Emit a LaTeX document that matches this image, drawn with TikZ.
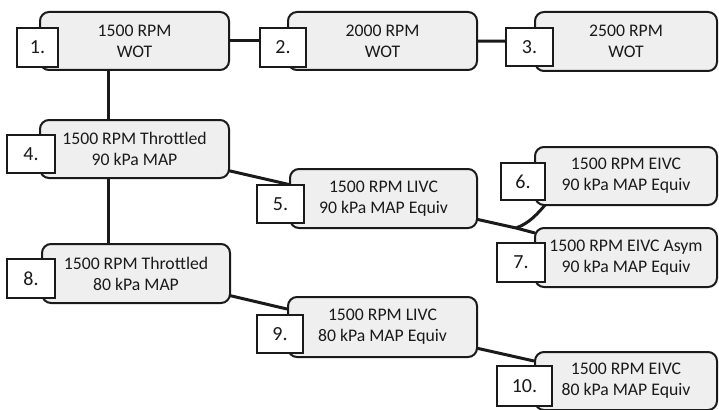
\documentclass[tikz,border=0pt]{standalone}
\usepackage{fontspec}
\setmainfont{Carlito}
\usetikzlibrary{backgrounds,calc}
\definecolor{boxfill}{HTML}{EFEFEF}
\definecolor{ink}{HTML}{1A1A1A}
\begin{document}
\begin{tikzpicture}[x=1pt,y=-1pt,
  mainbox/.style={draw=ink, fill=boxfill, line width=2pt, rounded corners=9pt,
    inner sep=0pt, align=center, text=ink, font=\fontsize{17.7}{21}\selectfont},
  numbox/.style={draw=ink, fill=white, line width=2pt, inner sep=0pt,
    text=ink, font=\fontsize{20}{24}\selectfont},
  link/.style={draw=ink, line width=3pt}
]
\useasboundingbox (0,0) rectangle (719,409);
% main boxes
\node[mainbox, minimum width=189pt, minimum height=58pt] (b1) at (134.5,41) {1500 RPM\\WOT};
\node[mainbox, minimum width=189pt, minimum height=58pt] (b2) at (382.5,41) {2000 RPM\\WOT};
\node[mainbox, minimum width=182pt, minimum height=59pt] (b3) at (626,41.5) {2500 RPM\\WOT};
\node[mainbox, minimum width=189pt, minimum height=58pt] (b4) at (134.5,149) {1500 RPM Throttled\\90 kPa MAP};
\node[mainbox, minimum width=187pt, minimum height=59pt] (b5) at (383.5,198.5) {1500 RPM LIVC\\90 kPa MAP Equiv};
\node[mainbox, minimum width=182pt, minimum height=58pt] (b6) at (626,176) {1500 RPM EIVC\\90 kPa MAP Equiv};
\node[mainbox, minimum width=182pt, minimum height=59pt] (b7) at (626,257.5) {1500 RPM EIVC Asym\\90 kPa MAP Equiv};
\node[mainbox, minimum width=188pt, minimum height=59pt] (b8) at (136,273.5) {1500 RPM Throttled\\80 kPa MAP};
\node[mainbox, minimum width=189pt, minimum height=60pt] (b9) at (382.5,327) {1500 RPM LIVC\\80 kPa MAP Equiv};
\node[mainbox, minimum width=182pt, minimum height=58pt] (b10) at (626,381) {1500 RPM EIVC\\80 kPa MAP Equiv};
% number boxes
\node[numbox, minimum width=41pt, minimum height=39pt] (n1) at (37.5,47.5) {1.};
\node[numbox, minimum width=46pt, minimum height=39pt] (n2) at (283,47.5) {2.};
\node[numbox, minimum width=47pt, minimum height=38pt] (n3) at (529.5,47) {3.};
\node[numbox, minimum width=48pt, minimum height=38pt] (n4) at (31,154) {4.};
\node[numbox, minimum width=47pt, minimum height=38pt] (n5) at (280.5,204) {5.};
\node[numbox, minimum width=44pt, minimum height=37pt] (n6) at (523,181.5) {6.};
\node[numbox, minimum width=48pt, minimum height=39pt] (n7) at (521,262.5) {7.};
\node[numbox, minimum width=48pt, minimum height=39pt] (n8) at (31,278.5) {8.};
\node[numbox, minimum width=46pt, minimum height=38pt] (n9) at (280,334) {9.};
\node[numbox, minimum width=55pt, minimum height=40pt] (n10) at (524.5,386) {10.};
% helper coordinates
\coordinate (vx) at (108,0);
\coordinate (J) at (516,228);
\coordinate (e5) at ($(b5.west)+(0,-14)$);
\coordinate (e7) at ($(b7.north west)+(1,6)$);
\coordinate (e6) at ($(b6.south west)+(12,-2)$);
\coordinate (e9) at ($(b9.west)+(0,-18)$);
\coordinate (e10) at ($(b10.west)+(0,-20)$);
\begin{pgfonlayer}{background}
  \draw[link] (b1.center) -- (b2.center);
  \draw[link] (b2.center) -- (b3.center);
  \draw[link] (b1.south -| vx) -- (b4.north -| vx);
  \draw[link] (b4.south -| vx) -- (b8.north -| vx);
  \draw[link] (b4.center) -- (e5);
  \draw[link] (b8.center) -- (e9);
  \draw[link] (b9.center) -- (e10);
  \draw[link] (b5.center) -- (J) -- (e7);
  \draw[link] (J) .. controls (530,223) and (538,213) .. (e6);
\end{pgfonlayer}
\end{tikzpicture}
\end{document}
